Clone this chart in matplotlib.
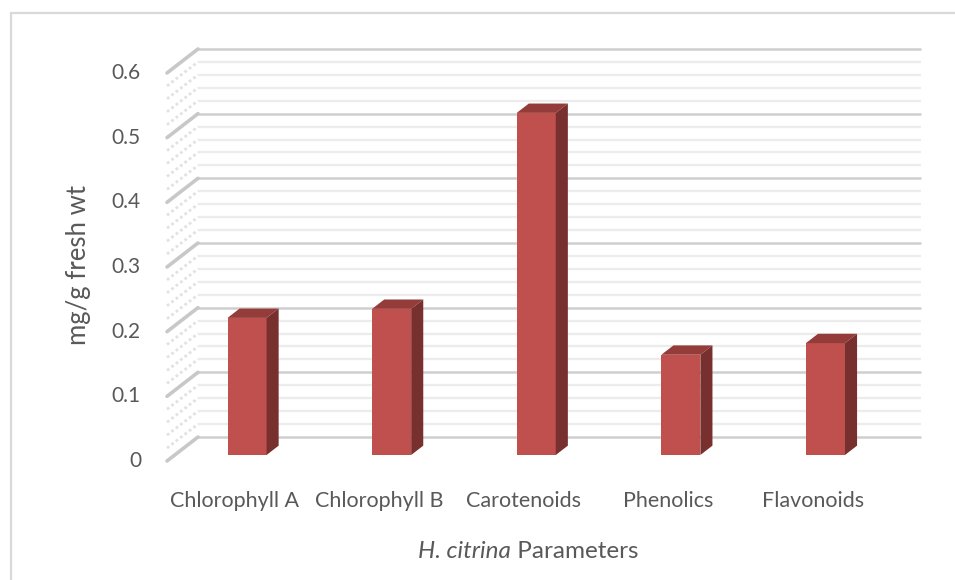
import matplotlib
matplotlib.use("Agg")
import matplotlib.pyplot as plt
from matplotlib.patches import Polygon, Rectangle
from matplotlib.transforms import offset_copy
import numpy as np

categories = ["Chlorophyll A", "Chlorophyll B", "Carotenoids", "Phenolics", "Flavonoids"]
values = [0.212, 0.226, 0.529, 0.155, 0.173]
y_ticks = [0, 0.1, 0.2, 0.3, 0.4, 0.5, 0.6]
y_tick_labels = ["0", "0.1", "0.2", "0.3", "0.4", "0.5", "0.6"]
y_label = "mg/g fresh wt"
x_title_species = "H. citrina"
x_title_rest = " Parameters"

W, H = 955, 580
fig = plt.figure(figsize=(W / 100, H / 100), dpi=100)
fig.patch.set_facecolor("white")

# layout in pixels (from top-left)
floor_left, cat_w = 167.0, 144.6
zero_y, unit_px = 461.0, 646.7
depth_px = (31.0, 24.0)

ax = fig.add_axes([0, 0, 1, 1])
ax.set_xlim(-0.5 - floor_left / cat_w, -0.5 + (W - floor_left) / cat_w)
ax.set_ylim(-(H - zero_y) / unit_px, zero_y / unit_px)
ax.axis("off")

dx = depth_px[0] / cat_w
dy = depth_px[1] / unit_px
n = len(categories)
x0, x1 = -0.5, n - 0.5
vmax = y_ticks[-1]
font = ["Lato", "DejaVu Sans"]
text_col = "#595959"

# chart border
fig.patches.append(Rectangle((10.5 / W, -0.1), 1.2, 1 - 13.5 / H + 0.1,
                             transform=fig.transFigure, fill=False,
                             edgecolor="#d9d9d9", lw=1.6))

# back wall and side wall gridlines
minor = np.round(np.arange(0, vmax + 1e-9, 0.02), 4)
for v in minor:
    is_major = abs(v * 10 - round(v * 10)) < 1e-6
    col = "#cfcfcf" if is_major else "#ececec"
    lw = 1.8 if is_major else 1.6
    ax.plot([x0 + dx, x1 + dx], [v + dy, v + dy], color=col, lw=lw,
            solid_capstyle="butt", zorder=1)
    if is_major:
        ax.plot([x0, x0 + dx], [v, v + dy], color="#c8c8c8", lw=2.6,
                solid_capstyle="round", zorder=1)
    else:
        ax.plot([x0, x0 + dx], [v, v + dy], color="#e2e2e2", lw=2.0,
                ls=(0, (1.0, 1.0)), zorder=1)

# 3D columns
bw = 0.27
f0, f1 = 0.25, 0.64
front_c, top_c, side_c = "#c0504d", "#933c39", "#77302e"
for i, v in enumerate(values):
    left = i - bw / 2 + f0 * dx
    right = left + bw
    base = f0 * dy
    ddx, ddy = (f1 - f0) * dx, (f1 - f0) * dy
    ax.bar(left, v, width=bw, bottom=base, align="edge", color=front_c,
           edgecolor="none", zorder=3)
    ax.add_patch(Polygon([(left, v + base), (right, v + base),
                          (right + ddx, v + base + ddy), (left + ddx, v + base + ddy)],
                         closed=True, facecolor=top_c, edgecolor="none", zorder=3))
    ax.add_patch(Polygon([(right, base), (right + ddx, base + ddy),
                          (right + ddx, v + base + ddy), (right, v + base)],
                         closed=True, facecolor=side_c, edgecolor="none", zorder=3))

# value axis labels along the front edge of the side wall
for t, lab in zip(y_ticks, y_tick_labels):
    ax.text(x0 - 26 / cat_w, t, lab, ha="right", va="center", fontsize=15,
            color=text_col, family=font)

# category labels
for i, c in enumerate(categories):
    ax.text(i - 5 / cat_w, -40 / unit_px, c, ha="center", va="center", fontsize=15.5,
            color=text_col, family=font)

# axis titles
fig.text(78 / W, 1 - 265 / H, y_label, rotation=90, ha="center", va="center",
         fontsize=18.5, color=text_col, family=font)

renderer = fig.canvas.get_renderer()
t_it = fig.text(0, 1 - 552 / H, x_title_species, ha="left", va="center",
                fontsize=17.5, style="italic", color=text_col, family=font)
t_rest = fig.text(0, 1 - 552 / H, x_title_rest, ha="left", va="center",
                  fontsize=17.5, color=text_col, family=font)
w_it = t_it.get_window_extent(renderer).width
w_rest = t_rest.get_window_extent(renderer).width
start = 528 - (w_it + w_rest) / 2
t_it.set_x(start / W)
t_rest.set_x((start + w_it) / W)

fig.savefig("out.png", dpi=100, facecolor="white")
